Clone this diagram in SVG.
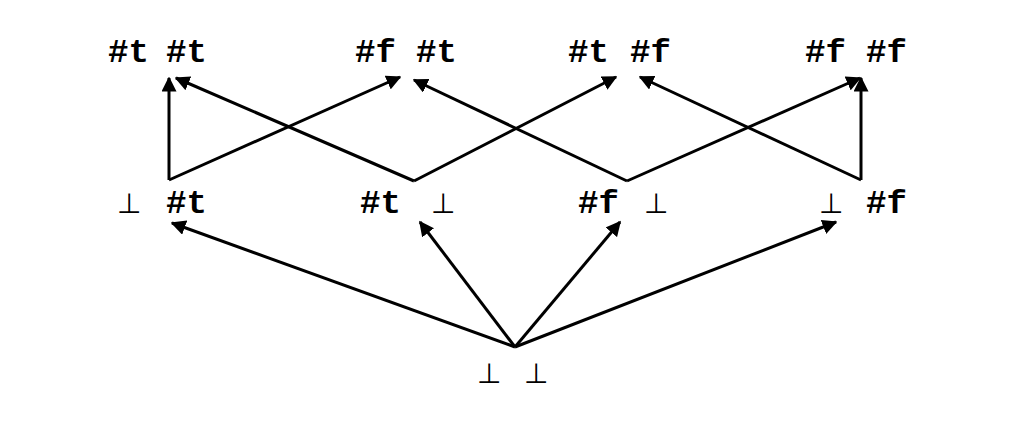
<svg xmlns="http://www.w3.org/2000/svg" width="1034" height="422" viewBox="0 0 1034 422">
<style>
text{font-family:"Liberation Mono","DejaVu Sans Mono",monospace;font-weight:bold;font-size:34px;fill:#000}
.b{font-weight:normal;font-family:"DejaVu Sans","Liberation Sans",sans-serif;font-size:28px}
.e{stroke:#000;stroke-width:3;fill:none;marker-end:url(#a)}
</style>
<defs><marker id="a" viewBox="0 0 10 10" refX="9" refY="5" markerWidth="5" markerHeight="5" orient="auto" markerUnits="strokeWidth"><path d="M0,0L10,5L0,10z"/></marker></defs>
<rect width="1034" height="422" fill="#fff"/>
<g id="tt"><text x="108" y="62">#t</text><text x="166" y="62">#t</text></g>
<g id="ft"><text x="355" y="62">#f</text><text x="416" y="62">#t</text></g>
<g id="tf"><text x="568" y="62">#t</text><text x="630" y="62">#f</text></g>
<g id="ff"><text x="805" y="62">#f</text><text x="866" y="62">#f</text></g>
<g id="bt"><text class="b" x="117" y="213">⊥</text><text x="166" y="213">#t</text></g>
<g id="tb"><text x="360" y="213">#t</text><text class="b" x="431" y="213">⊥</text></g>
<g id="fb"><text x="578" y="213">#f</text><text class="b" x="644" y="213">⊥</text></g>
<g id="bf"><text class="b" x="819" y="213">⊥</text><text x="866" y="213">#f</text></g>
<g id="bb"><text class="b" x="477" y="383">⊥</text><text class="b" x="524" y="383">⊥</text></g>
<g id="edges">
<path class="e" d="M169,180L169,78"/>
<path class="e" d="M169,180L400,77"/>
<path class="e" d="M414,181L176,78"/>
<path class="e" d="M414,181L616,77"/>
<path class="e" d="M627,181L414,80"/>
<path class="e" d="M627,181L860,78"/>
<path class="e" d="M861,180L640,77"/>
<path class="e" d="M861,180L861,78"/>
<path class="e" d="M515,347L172,223"/>
<path class="e" d="M515,347L420,222"/>
<path class="e" d="M515,347L620,222"/>
<path class="e" d="M515,347L836,222"/>
</g>
</svg>
